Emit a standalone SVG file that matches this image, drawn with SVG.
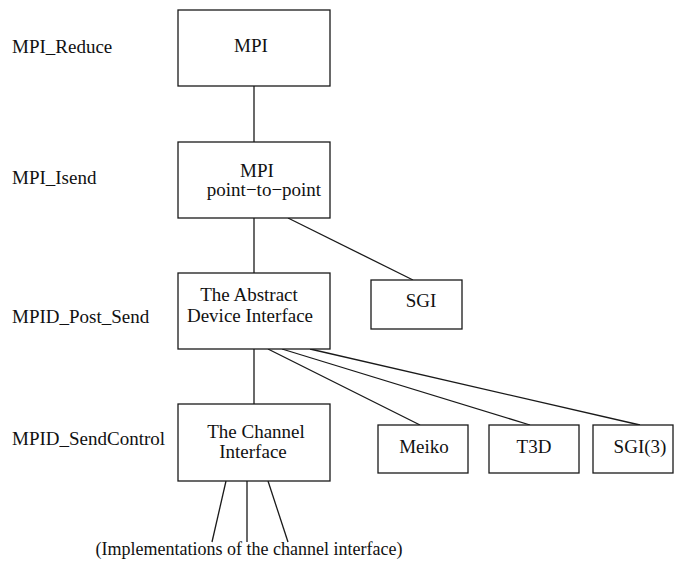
<svg xmlns="http://www.w3.org/2000/svg" width="675" height="561" viewBox="0 0 675 561">
  <style>
    .box { fill: #ffffff; stroke: #1a1a1a; stroke-width: 1.3; }
    .link { stroke: #1a1a1a; stroke-width: 1.3; fill: none; }
    text { font-family: "Liberation Serif", "Times New Roman", serif; font-size: 19px; fill: #111111; }
    .c { text-anchor: middle; }
  </style>
  <rect width="675" height="561" fill="#ffffff"/>

  <!-- layer labels -->
  <g id="layer-labels">
    <text x="12" y="53">MPI_Reduce</text>
    <text x="12" y="184">MPI_Isend</text>
    <text x="12" y="323">MPID_Post_Send</text>
    <text x="12" y="445">MPID_SendControl</text>
  </g>

  <!-- connectors -->
  <g id="connectors">
    <line class="link" x1="254" y1="86" x2="254" y2="142"/>
    <line class="link" x1="254" y1="218" x2="254" y2="273"/>
    <line class="link" x1="288" y1="218" x2="413" y2="280"/>
    <line class="link" x1="254" y1="349" x2="254" y2="404"/>
    <line class="link" x1="268" y1="349" x2="420" y2="425"/>
    <line class="link" x1="282" y1="349" x2="530" y2="425"/>
    <line class="link" x1="310" y1="349" x2="640" y2="425"/>
    <line class="link" x1="226" y1="481" x2="212" y2="542"/>
    <line class="link" x1="247" y1="481" x2="247" y2="542"/>
    <line class="link" x1="268" y1="481" x2="288" y2="542"/>
  </g>

  <g id="mpi">
    <rect class="box" x="178" y="10" width="152" height="76"/>
    <text class="c" x="251" y="52">MPI</text>
  </g>

  <g id="mpi-p2p">
    <rect class="box" x="178" y="142" width="152" height="76"/>
    <text class="c" x="257" y="177">MPI</text>
    <text class="c" x="264" y="196">point−to−point</text>
  </g>

  <g id="adi">
    <rect class="box" x="178" y="273" width="152" height="76"/>
    <text class="c" x="249" y="301">The Abstract</text>
    <text class="c" x="250" y="322">Device Interface</text>
  </g>

  <g id="sgi">
    <rect class="box" x="371" y="280" width="91" height="49"/>
    <text class="c" x="421" y="307">SGI</text>
  </g>

  <g id="channel">
    <rect class="box" x="178" y="404" width="152" height="77"/>
    <text class="c" x="256" y="438">The Channel</text>
    <text class="c" x="253" y="458">Interface</text>
  </g>

  <g id="meiko">
    <rect class="box" x="378" y="425" width="90" height="48"/>
    <text class="c" x="424" y="453">Meiko</text>
  </g>

  <g id="t3d">
    <rect class="box" x="489" y="425" width="90" height="48"/>
    <text class="c" x="534" y="453">T3D</text>
  </g>

  <g id="sgi3">
    <rect class="box" x="593" y="425" width="80" height="48"/>
    <text class="c" x="640" y="453">SGI(3)</text>
  </g>

  <g id="implementations">
    <text class="c" x="249" y="555" style="font-size:18px">(Implementations of the channel interface)</text>
  </g>
</svg>
